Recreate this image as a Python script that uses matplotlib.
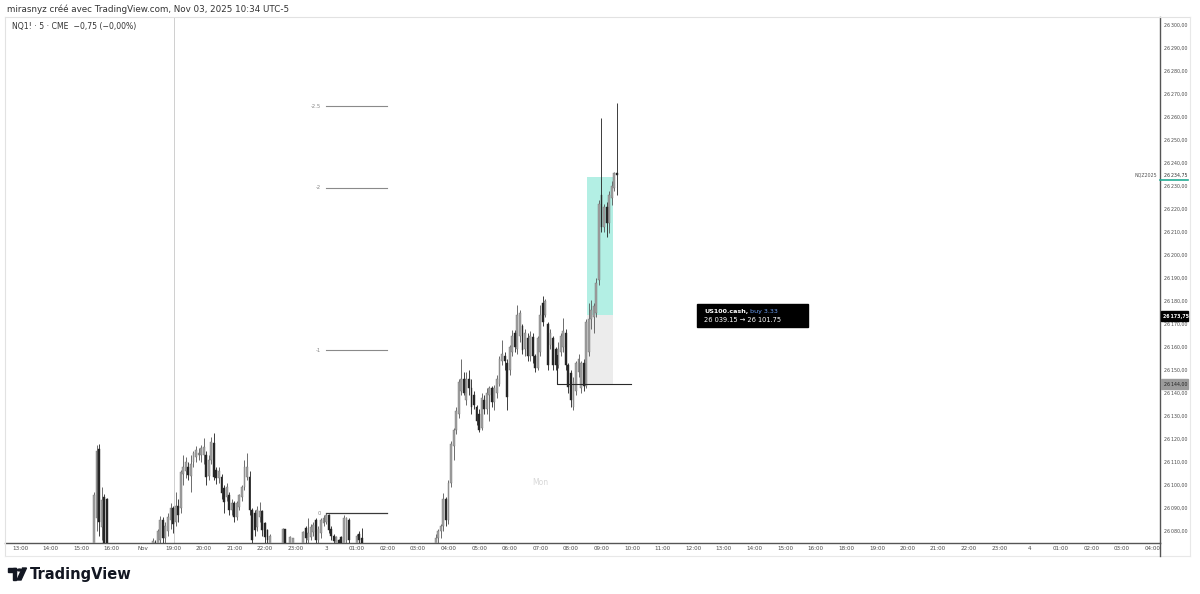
import numpy as np
import matplotlib
matplotlib.use("Agg")
import matplotlib.pyplot as plt
from matplotlib.patches import Rectangle, Polygon, Circle
from matplotlib.lines import Line2D

# ---- data (5 min bars, x = bar index, 0 = Fri 13:00) ----
fri_start = 29
fri_o = [26062, 26085.6, 26115.6, 26081.9, 26095, 26094]
fri_h = [26097, 26117.4, 26117.8, 26099.3, 26096, 26094.5]
fri_l = [26058, 26080, 26078, 26076, 26064, 26060]
fri_c = [26095.7, 26115, 26084, 26093.5, 26070, 26066]

sun_start = 52
sun_o = [26072, 26075, 26070, 26076, 26085, 26077, 26080, 26085, 26090, 26084,
         26091, 26090, 26105, 26106, 26108, 26104, 26110, 26112, 26113, 26113,
         26113, 26113, 26104, 26110.9, 26118.4, 26106.5, 26103, 26103.6, 26098.5, 26094.9,
         26095.6, 26089, 26092, 26086, 26090.6, 26094.9, 26099.3, 26103.6, 26103.6, 26089.1,
         26087.7, 26081.9, 26086, 26088.5, 26083.3, 26080.4, 26074, 26074, 26068, 26072,
         26066, 26071, 26080.9, 26070, 26066, 26072, 26072, 26066, 26062, 26070,
         26081.2, 26076, 26077.6, 26079.7, 26084.8, 26076, 26079, 26083.6, 26084.1, 26087,
         26081, 26078, 26072, 26076, 26077.3, 26072, 26076, 26084.8, 26073, 26068,
         26064, 26078.5, 26077]
sun_h = [26077, 26076, 26081, 26086.5, 26086, 26084, 26088, 26092, 26091, 26097,
         26094, 26106.5, 26113, 26112, 26110, 26113, 26115, 26117, 26116, 26117.4,
         26120.3, 26115, 26113, 26121, 26122.5, 26108, 26108, 26105, 26100, 26101,
         26097, 26094, 26093, 26093, 26096, 26100, 26110.9, 26113.8, 26106, 26090,
         26089, 26091, 26092.7, 26089, 26084, 26081, 26078.5, 26074.5, 26074, 26073,
         26072, 26081.5, 26081, 26072, 26078, 26074, 26073, 26069, 26072, 26080,
         26082, 26085.5, 26083, 26084, 26085.5, 26082, 26085.5, 26087, 26087.7, 26087.5,
         26082, 26078.5, 26078, 26076.5, 26078, 26087, 26086, 26085.5, 26074, 26070,
         26078.5, 26080, 26081.2]
sun_l = [26070, 26066, 26068, 26074, 26074, 26075, 26078, 26081, 26079, 26082,
         26084, 26088, 26100, 26103, 26102, 26097, 26108, 26110, 26111, 26110,
         26109, 26100, 26102, 26109, 26102, 26100.5, 26101, 26094, 26087.7, 26093,
         26087, 26087, 26084, 26085, 26089, 26093, 26098, 26102, 26087, 26072,
         26078, 26080, 26084, 26078, 26075, 26073, 26070, 26064, 26065, 26062,
         26063, 26069, 26068, 26062, 26064, 26068, 26062, 26058, 26060, 26068,
         26074, 26074, 26076, 26078, 26074, 26074, 26077, 26082, 26083, 26079,
         26076, 26072, 26070, 26068, 26069, 26070, 26074, 26072, 26064, 26060,
         26062, 26072, 26064]
sun_c = [26075.5, 26070, 26080, 26085, 26077, 26082, 26086, 26090, 26083, 26091,
         26087, 26105.8, 26108, 26110, 26104.3, 26109, 26113.8, 26115.2, 26114, 26116,
         26116.5, 26103.6, 26111, 26118.8, 26103.6, 26102.9, 26106, 26096.4, 26092.7, 26099.3,
         26089.1, 26092, 26086.2, 26092, 26095.6, 26099.3, 26108, 26108, 26089.1, 26076,
         26080.4, 26089, 26088.5, 26080.4, 26077.5, 26076, 26077.9, 26068, 26072, 26066,
         26071, 26080.9, 26070, 26066, 26077.3, 26077, 26066, 26062, 26070, 26079.7,
         26076.8, 26079, 26081.9, 26082.6, 26076.1, 26081, 26084.8, 26085.5, 26087, 26080.5,
         26078, 26075.8, 26077.3, 26072, 26072, 26085.5, 26085.5, 26076, 26068, 26064,
         26077.7, 26076, 26068]

mon_start = 163
mon_o = [26068, 26077, 26080, 26082, 26094, 26085, 26101, 26117, 26124, 26131,
         26141, 26146, 26137, 26146, 26142, 26139, 26134, 26131, 26125, 26137,
         26133, 26139, 26142, 26136, 26140, 26144, 26154, 26156, 26153, 26150,
         26158, 26166, 26159, 26165, 26169, 26159, 26164, 26156, 26164.5, 26156,
         26151, 26158, 26179, 26174, 26170, 26161, 26164, 26159, 26152, 26158,
         26160, 26166, 26152, 26148.6, 26134, 26141, 26149, 26142, 26153, 26143,
         26158, 26172, 26173, 26175, 26189, 26226, 26212, 26221, 26214, 26225,
         26229, 26235.5]
mon_h = [26078.5, 26081, 26083, 26096.4, 26095, 26102, 26119, 26125, 26134, 26146,
         26155, 26149, 26149.3, 26150, 26146, 26141, 26135, 26133, 26140, 26139,
         26142, 26143, 26143, 26143.5, 26147.8, 26156, 26163, 26158, 26155, 26161,
         26167.4, 26167.4, 26178.3, 26176, 26170, 26168, 26166, 26167, 26166, 26157,
         26165, 26178.3, 26182, 26181, 26171, 26168, 26165, 26160, 26162, 26166,
         26172.5, 26168, 26153, 26150, 26147, 26154, 26157, 26154, 26155, 26172,
         26179, 26180.4, 26179, 26190, 26224, 26259.4, 26222, 26223, 26228, 26232,
         26236, 26266]
mon_l = [26065, 26074, 26077, 26080, 26082, 26083, 26099, 26111, 26122, 26129,
         26139, 26139, 26135, 26139, 26131, 26133, 26126, 26123.2, 26124, 26131,
         26131, 26128, 26134, 26132.6, 26138, 26143, 26152, 26150, 26132.6, 26148,
         26156, 26158, 26157, 26162, 26157, 26156, 26154, 26154, 26153, 26149,
         26150, 26156, 26169, 26173, 26150, 26159, 26150, 26150, 26151, 26156,
         26158, 26150, 26140, 26134, 26132.6, 26139, 26147, 26140, 26141, 26142,
         26156, 26168, 26166, 26173, 26187, 26210, 26210, 26208, 26209.4, 26221.7,
         26228, 26226]
mon_c = [26077, 26080, 26082, 26094, 26085, 26101, 26118, 26124, 26132, 26145,
         26146, 26140, 26146, 26142, 26134, 26135, 26128, 26124, 26138, 26133,
         26140, 26142, 26136, 26142, 26146, 26155, 26157, 26154, 26138.4, 26160,
         26165, 26160, 26174, 26175, 26158.7, 26166, 26156, 26165, 26156, 26151,
         26164, 26174, 26171, 26180, 26152, 26166, 26152, 26152, 26159, 26165,
         26167, 26152, 26142.8, 26137, 26145, 26153, 26155, 26153, 26143, 26171,
         26172, 26176, 26178, 26188, 26222, 26212, 26221, 26214, 26226, 26230,
         26235.5, 26234.75]

tick_labels = ["13:00", "14:00", "15:00", "16:00", "Nov", "19:00", "20:00", "21:00",
               "22:00", "23:00", "3", "01:00", "02:00", "03:00", "04:00", "05:00",
               "06:00", "07:00", "08:00", "09:00", "10:00", "11:00", "12:00", "13:00",
               "14:00", "15:00", "16:00", "18:00", "19:00", "20:00", "21:00", "22:00",
               "23:00", "4", "01:00", "02:00", "03:00", "04:00"]
price_ticks = list(range(26080, 26301, 10))

fib_levels = ["0", "-1", "-2", "-2.5"]
fib_prices = [26087.75, 26158.5, 26229.25, 26264.6]

entry_price = 26173.75
target_price = 26234.0
stop_price = 26144.0
last_price = 26234.75

W, H = 1200, 594


def fx(px):
    return px / W


def fy(py):
    return 1 - py / H


def fmt(p):
    s = f"{p:.2f}".split(".")
    return s[0][:-3] + "\u2009" + s[0][-3:] + "," + s[1]


fig = plt.figure(figsize=(12, 5.94), dpi=100)
fig.patch.set_facecolor("white")
ax = fig.add_axes([fx(5), fy(543), fx(1160) - fx(5), fy(17) - fy(543)])
ax.set_xlim(-5.9, 447)
ax.set_ylim(26074.8, 26303.5)


def draw_candles(start, o, h, l, c):
    o, h, l, c = map(np.array, (o, h, l, c))
    x = np.arange(start, start + len(o))
    up = c >= o
    dn = ~up
    ax.vlines(x[up], l[up], h[up], color="#555555", lw=0.6, zorder=3)
    ax.vlines(x[dn], l[dn], h[dn], color="#1e1e1e", lw=0.6, zorder=3)
    ax.bar(x[up], np.maximum(c - o, 0.4)[up], bottom=o[up], width=0.72,
           color="#a2a2a2", edgecolor="#747474", lw=0.3, zorder=4)
    ax.bar(x[dn], np.maximum(o - c, 0.4)[dn], bottom=c[dn], width=0.72,
           color="#262626", edgecolor="#262626", lw=0.3, zorder=4)


# long position tool
ax.add_patch(Rectangle((222.5, entry_price), 10.2, target_price - entry_price,
                       color="#b3efe4", lw=0, zorder=1))
ax.add_patch(Rectangle((222.5, stop_price), 10.2, entry_price - stop_price,
                       color="#ececec", lw=0, zorder=1))

draw_candles(fri_start, fri_o, fri_h, fri_l, fri_c)
draw_candles(sun_start, sun_o, sun_h, sun_l, sun_c)
draw_candles(mon_start, mon_o, mon_h, mon_l, mon_c)

# session line
ax.axvline(60.4, color="#cfcfcf", lw=0.7, zorder=0)

# fib levels
for lev, p in zip(fib_levels, fib_prices):
    col = "#3a3a3a" if lev == "0" else "#8a8a8a"
    ax.plot([119.9, 143.8], [p, p], color=col, lw=0.9 if lev == "0" else 0.8, zorder=2)
    ax.text(117.9, p, lev, fontsize=3.8, color="#888888", ha="right", va="center")

# stop line
ax.plot([210.6, 210.6, 239.4], [26156.5, stop_price, stop_price],
        color="#2a2a2a", lw=0.8, zorder=5)

ax.text(204, 26101.3, "Mon", fontsize=5.5, color="#d8d8d8", ha="center", va="center")

# axes styling
for s in ["top", "left"]:
    ax.spines[s].set_visible(False)
ax.spines["right"].set_color("#555555")
ax.spines["right"].set_linewidth(1.0)
ax.spines["bottom"].set_color("#555555")
ax.spines["bottom"].set_linewidth(1.0)
ax.yaxis.tick_right()
ax.set_yticks(price_ticks)
ax.set_yticklabels([fmt(p) for p in price_ticks])
ax.set_xticks(np.arange(0, 12 * len(tick_labels), 12))
ax.set_xticklabels(tick_labels)
ax.tick_params(axis="y", length=0, pad=2.6, labelsize=3.4, labelcolor="#4a4a4a")
ax.tick_params(axis="x", length=0, pad=1.8, labelsize=4.1, labelcolor="#4a4a4a")

# frame pieces
fig.add_artist(Line2D([fx(5), fx(1190)], [fy(17), fy(17)], color="#e2e2e2", lw=0.8))
fig.add_artist(Line2D([fx(5), fx(5)], [fy(17), fy(556)], color="#e2e2e2", lw=0.8))
fig.add_artist(Line2D([fx(5), fx(1190)], [fy(556), fy(556)], color="#e8e8e8", lw=0.8))
fig.add_artist(Line2D([fx(1190), fx(1190)], [fy(17), fy(556)], color="#e8e8e8", lw=0.8))
fig.add_artist(Line2D([fx(1160), fx(1160)], [fy(543), fy(556)], color="#555555", lw=1.0))

# header + legend
fig.text(fx(7), fy(9), "mirasnyz créé avec TradingView.com, Nov 03, 2025 10:34 UTC-5",
         fontsize=6.3, color="#333333", va="center")
fig.text(fx(12), fy(27), "NQ1! · 5 · CME  −0,75 (−0,00%)", fontsize=5.6,
         color="#333333", va="center")

# right axis price tags
fig.text(fx(1157), fy(175), "NQZ2025", fontsize=3.4, color="#555555", ha="right", va="center")
fig.text(fx(1163.5), fy(175), fmt(last_price), fontsize=3.4, color="#333333", va="center")
fig.add_artist(Line2D([fx(1160), fx(1188)], [fy(180), fy(180)], color="#22ab94", lw=1.2))
fig.add_artist(Rectangle((fx(1161), fy(321)), fx(27), 10 / H, color="black",
                         transform=fig.transFigure))
fig.text(fx(1163), fy(316.3), fmt(entry_price), fontsize=3.4, color="white",
         weight="bold", va="center")
fig.add_artist(Rectangle((fx(1161), fy(389)), fx(27), 10 / H, color="#9c9c9c",
                         transform=fig.transFigure))
fig.text(fx(1163.5), fy(384.3), fmt(stop_price), fontsize=3.4, color="#222222",
         va="center")

# info box
fig.add_artist(Rectangle((fx(697), fy(327)), fx(111), 23 / H, color="black",
                         transform=fig.transFigure))
fig.text(fx(704), fy(311), "US100.cash,", fontsize=4.6, color="white", weight="bold",
         va="center")
fig.text(fx(750), fy(311), "buy 3.33", fontsize=4.6, color="#6a9cf0", va="center")
fig.text(fx(704), fy(320.5), "26 039.15 → 26 101.75", fontsize=4.8, color="white",
         va="center")

# footer logo
fig.add_artist(Rectangle((fx(8), fy(571.5)), fx(8), 3.5 / H, color="#131722",
                         transform=fig.transFigure))
fig.add_artist(Rectangle((fx(12.5), fy(580)), fx(3.5), 12 / H, color="#131722",
                         transform=fig.transFigure))
fig.add_artist(Circle((fx(19.5), fy(570)), 1.9 / W, color="#131722",
                      transform=fig.transFigure))
fig.add_artist(Polygon([(fx(17), fy(580)), (fx(21), fy(580)), (fx(26.5), fy(568)),
                        (fx(22.5), fy(568))], closed=True, color="#131722",
                       transform=fig.transFigure))
fig.text(fx(30), fy(574.5), "TradingView", fontsize=10.5, color="#131722",
         weight="bold", va="center")

fig.savefig("out.png", dpi=100)
